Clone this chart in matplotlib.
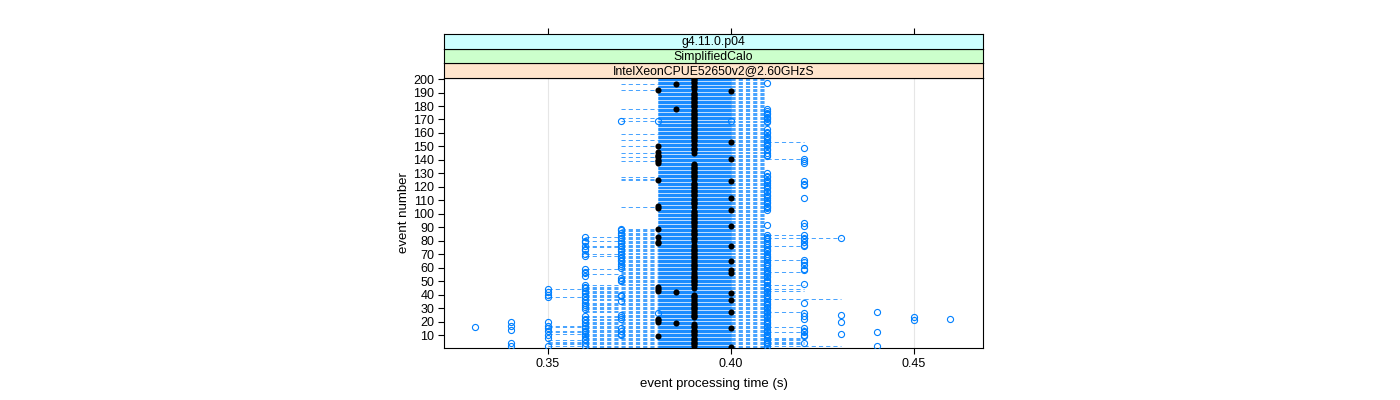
# Event processing time per event (lattice-style dotplot)
import numpy as np
import matplotlib.pyplot as plt
from matplotlib.collections import LineCollection

plt.rcParams['font.family'] = ['Liberation Sans', 'DejaVu Sans']
plt.rcParams['lines.scale_dashes'] = False

# data: event numbers 1..200, times in milliseconds
events = np.arange(1, 201)

# left end of the dashed range for each event
lo_ms = [
    360, 350, 350, 350, 350, 350, 360, 360, 360, 360, 350, 350, 350, 360, 360, 350, 350, 360, 360, 360,
    360, 360, 360, 360, 370, 370, 360, 360, 360, 360, 360, 360, 360, 360, 370, 360, 360, 350, 360, 360,
    360, 360, 360, 350, 360, 360, 360, 370, 370, 370, 370, 370, 370, 370, 360, 370, 370, 370, 360, 370,
    370, 370, 370, 370, 370, 370, 370, 370, 360, 360, 370, 370, 370, 370, 360, 360, 370, 370, 370, 360,
    370, 370, 360, 370, 370, 370, 370, 370, 370, 380, 380, 380, 380, 380, 380, 380, 380, 380, 380, 380,
    380, 380, 380, 380, 370, 380, 380, 380, 380, 380, 380, 380, 380, 380, 380, 380, 380, 380, 380, 380,
    380, 380, 380, 380, 370, 370, 370, 380, 380, 380, 380, 380, 380, 380, 380, 380, 380, 380, 370, 380,
    380, 370, 380, 380, 370, 380, 380, 380, 380, 370, 380, 380, 380, 380, 370, 380, 380, 380, 370, 380,
    380, 380, 380, 380, 380, 380, 380, 380, 370, 380, 370, 380, 380, 380, 380, 380, 380, 370, 380, 380,
    380, 380, 380, 380, 380, 380, 380, 380, 380, 380, 380, 370, 380, 380, 380, 370, 380, 380, 380, 380,
]

# right end of the dashed range for each event
hi_ms = [
    410, 430, 420, 420, 420, 420, 420, 420, 410, 410, 410, 420, 410, 410, 410, 420, 410, 410, 410, 410,
    410, 410, 410, 410, 410, 410, 420, 410, 410, 410, 410, 410, 410, 410, 410, 410, 430, 410, 410, 410,
    410, 410, 420, 420, 410, 410, 420, 410, 410, 410, 410, 410, 410, 410, 410, 410, 420, 410, 410, 410,
    410, 410, 410, 410, 410, 420, 410, 410, 410, 410, 410, 410, 410, 410, 410, 420, 410, 410, 410, 410,
    410, 430, 410, 420, 410, 410, 410, 410, 410, 410, 410, 410, 410, 410, 410, 410, 410, 410, 410, 410,
    410, 410, 410, 410, 410, 410, 410, 410, 410, 410, 410, 410, 410, 410, 410, 410, 410, 410, 410, 410,
    410, 410, 410, 410, 410, 410, 410, 410, 410, 410, 410, 410, 410, 410, 410, 410, 410, 410, 410, 410,
    420, 410, 410, 410, 410, 410, 410, 410, 410, 410, 410, 410, 420, 410, 410, 410, 410, 410, 410, 410,
    410, 410, 410, 410, 410, 410, 410, 410, 410, 410, 410, 410, 410, 410, 410, 410, 410, 410, 410, 410,
    410, 410, 410, 410, 410, 410, 410, 410, 410, 410, 410, 410, 410, 410, 410, 410, 410, 410, 410, 410,
]

# median time for each event (black dots)
med_ms = [
    400, 390, 390, 390, 390, 390, 390, 390, 380, 390, 390, 390, 390, 390, 400, 390, 390, 390, 385, 380,
    380, 380, 390, 390, 390, 390, 400, 390, 390, 390, 390, 390, 390, 390, 390, 400, 390, 390, 390, 390,
    400, 385, 380, 380, 390, 380, 390, 390, 390, 390, 390, 390, 390, 390, 390, 400, 390, 400, 390, 390,
    390, 390, 390, 390, 400, 390, 390, 390, 390, 390, 390, 390, 390, 390, 390, 400, 390, 380, 380, 390,
    390, 390, 380, 390, 390, 390, 390, 390, 380, 390, 400, 390, 390, 390, 390, 390, 390, 390, 390, 390,
    390, 390, 400, 380, 390, 380, 390, 390, 390, 390, 390, 400, 390, 390, 390, 390, 390, 390, 390, 390,
    390, 390, 390, 400, 380, 390, 390, 390, 390, 390, 390, 390, 390, 390, 390, 390, 390, 380, 380, 380,
    400, 380, 380, 380, 390, 380, 390, 390, 390, 380, 390, 390, 400, 390, 390, 390, 390, 390, 390, 390,
    390, 390, 390, 390, 390, 390, 390, 390, 390, 390, 390, 390, 390, 390, 390, 390, 390, 385, 390, 390,
    390, 390, 390, 390, 390, 390, 390, 390, 390, 390, 400, 380, 390, 390, 390, 385, 390, 390, 390, 390,
]

# dense band where the runs overlap (drawn solid)
core_ms = (380, 400)

# events with a visible open circle at each time value
c33 = [16]
c34 = [2, 4, 14, 17, 20]
c35 = [2, 8, 10, 13, 15, 17, 20, 38, 40, 42, 44]
c36 = [2, 4, 6, 7, 9, 11, 12, 13, 15, 17, 19, 21, 22, 24, 29, 31, 32, 34, 36, 38, 39, 41, 43, 45,
       46, 47, 54, 56, 57, 59, 69, 70, 73, 74, 76, 79, 80, 83]
c37 = [10, 11, 13, 15, 22, 23, 25, 35, 39, 40, 50, 51, 52, 60, 61, 63, 65, 66, 67, 68, 70, 72, 74,
       76, 78, 80, 82, 84, 86, 88, 89, 169]
c38 = [26, 169]
c40 = [169]
c41 = [2, 3, 4, 5, 6, 8, 9, 10, 11, 12, 13, 14, 16, 17, 18, 19, 20, 21, 23, 24, 25, 26, 27, 28, 30,
       31, 32, 33, 34, 35, 37, 38, 39, 40, 41, 42, 44, 45, 46, 47, 49, 50, 51, 53, 54, 55, 56, 57,
       58, 60, 61, 62, 63, 64, 66, 67, 68, 69, 70, 72, 73, 74, 75, 77, 78, 80, 81, 82, 83, 84, 92,
       103, 104, 105, 106, 108, 109, 110, 112, 113, 114, 116, 117, 119, 120, 121, 123, 124, 125,
       127, 128, 130, 143, 144, 145, 147, 148, 150, 151, 152, 153, 155, 156, 157, 158, 160, 161,
       163, 168, 169, 170, 171, 172, 174, 175, 176, 178, 197]
c42 = [4, 9, 10, 12, 13, 15, 22, 24, 26, 34, 48, 58, 59, 62, 64, 66, 76, 77, 79, 81, 82, 84, 91,
       93, 112, 121, 122, 124, 138, 139, 141, 149]
c43 = [11, 20, 25, 82]
c44 = [2, 12, 27]
c45 = [21, 23]
c46 = [22]
circles = {330: c33, 340: c34, 350: c35, 360: c36, 370: c37, 380: c38, 400: c40,
           410: c41, 420: c42, 430: c43, 440: c44, 450: c45, 460: c46}

strip_labels = ['IntelXeonCPUE52650v2@2.60GHzS', 'SimplifiedCalo', 'g4.11.0.p04']
strip_colors = ['#ffe5cc', '#ccffcc', '#ccffff']
x_ticks = [0.35, 0.40, 0.45]
y_ticks = list(range(10, 201, 10))

blue = '#0080ff'

# figure and panel
fig = plt.figure(figsize=(14, 4), dpi=100)
W, H = 1400, 400
left, right, top, bottom = 444, 983, 78, 348
ax = fig.add_axes([left / W, 1 - bottom / H, (right - left) / W, (bottom - top) / H])
xlim = (0.3216, 0.4689)
ax.set_xlim(*xlim)
ax.set_ylim(0.35, 200.8)

for xt in x_ticks:
    ax.axvline(xt, color='#e6e6e6', lw=0.8, zorder=0)

# dashed segments between successive time steps
segs = []
for ev, a, b in zip(events, lo_ms, hi_ms):
    for k in range(a, b, 10):
        segs.append([(k / 1000, ev), ((k + 10) / 1000, ev)])
ax.add_collection(LineCollection(segs, colors=blue, linewidths=0.6, alpha=0.85,
                                 linestyles=[(0, (3.0, 2.2))], zorder=2))

# solid overlap band
core = [[(core_ms[0] / 1000, ev), (core_ms[1] / 1000, ev)] for ev in events]
ax.add_collection(LineCollection(core, colors='#1a8cff', linewidths=0.95, zorder=3))

# open circles
for t, evs in circles.items():
    ax.plot([t / 1000] * len(evs), evs, 'o', mfc='none', mec=blue, ms=4.4, mew=0.8, zorder=4)

# medians
ax.plot(np.array(med_ms) / 1000, events, 'o', color='black', ms=4.4, mew=0, zorder=5)

ax.set_xticks(x_ticks)
ax.set_xticklabels(['%.2f' % v for v in x_ticks])
ax.set_yticks(y_ticks)
ax.tick_params(axis='both', direction='out', length=4, width=0.8, labelsize=9, pad=3)
ax.tick_params(axis='y', right=False)
for s in ax.spines.values():
    s.set_linewidth(0.8)
ax.set_xlabel('event processing time (s)', fontsize=9.5, labelpad=6)
ax.set_ylabel('event number', fontsize=9.5, labelpad=2)

# strips above the panel
sh = 14.7
for i, (lab, col) in enumerate(zip(strip_labels, strip_colors)):
    y0 = top - sh * (i + 1)
    sa = fig.add_axes([left / W, 1 - (y0 + sh) / H, (right - left) / W, sh / H])
    sa.set_facecolor(col)
    sa.set_xlim(*xlim)
    sa.set_ylim(0, 1)
    sa.set_yticks([])
    if i == len(strip_labels) - 1:
        sa.xaxis.tick_top()
        sa.set_xticks(x_ticks)
        sa.set_xticklabels([])
        sa.tick_params(axis='x', direction='out', length=4, width=0.8)
    else:
        sa.set_xticks([])
    for s in sa.spines.values():
        s.set_linewidth(0.8)
    sa.text(0.5, 0.45, lab, transform=sa.transAxes, ha='center', va='center', fontsize=8.8)

fig.savefig('out.png', dpi=100)
